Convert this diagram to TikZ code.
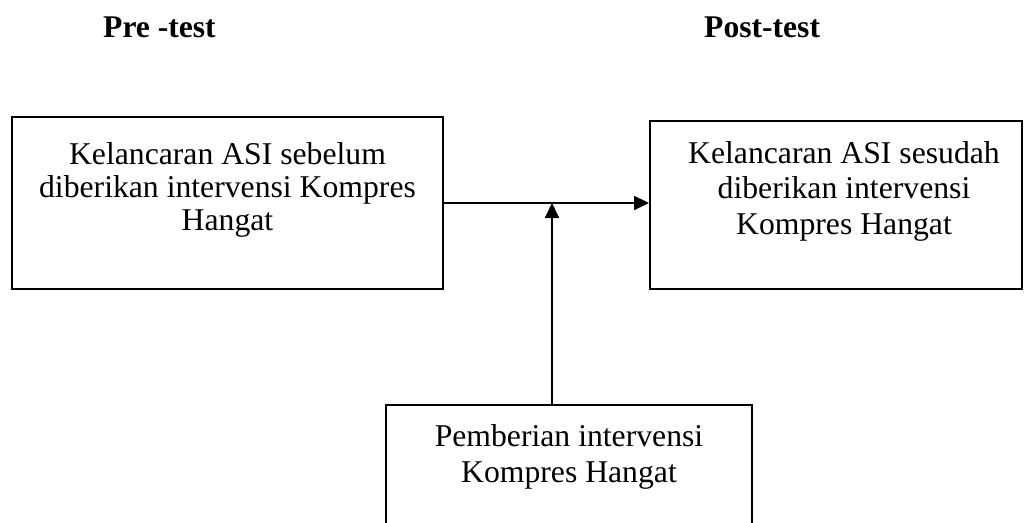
\documentclass[tikz,border=0pt]{standalone}
\usepackage{fontspec}
\setmainfont{Liberation Serif}
\usetikzlibrary{arrows.meta}
\begin{document}
\begin{tikzpicture}[x=1pt,y=-1pt,
  box/.style={draw, line width=1.9pt, rectangle, inner sep=0pt},
  boxtext/.style={align=center, inner sep=0pt, anchor=north},
  heading/.style={font=\fontsize{31.6}{34}\selectfont\bfseries, inner sep=0pt, anchor=base west},
  conn/.style={line width=1.9pt, -{Triangle[length=15pt, width=14pt]}}]
\useasboundingbox (0,0) rectangle (1024,522);
\clip (0,0) rectangle (1024,522);
% headings
\node[heading] (pre) at (103,37) {Pre -test};
\node[heading] (post) at (704,37) {Post-test};
% boxes
\node[box, minimum width=431pt, minimum height=172pt] (L) at (227.5,203) {};
\node[box, minimum width=372pt, minimum height=168pt] (R) at (836,205) {};
\node[box, minimum width=366pt, minimum height=140pt] (B) at (569,475) {};
% texts
\node[boxtext, font=\fontsize{31.7}{33}\selectfont] (Lt) at (227.5,142) {Kelancaran ASI sebelum\\diberikan intervensi Kompres\\Hangat};
\node[boxtext, font=\fontsize{31.7}{35.5}\selectfont] (Rt) at (844,141) {Kelancaran ASI sesudah\\diberikan intervensi\\Kompres Hangat};
\node[boxtext, font=\fontsize{31.7}{36}\selectfont] (Bt) at (569,424) {Pemberian intervensi\\Kompres Hangat};
% connectors
\coordinate (j) at (552,203);
\draw[conn] (L.east) -- (L.east -| R.west);
\draw[conn] (B.north -| j) -- (j);
\end{tikzpicture}
\end{document}
